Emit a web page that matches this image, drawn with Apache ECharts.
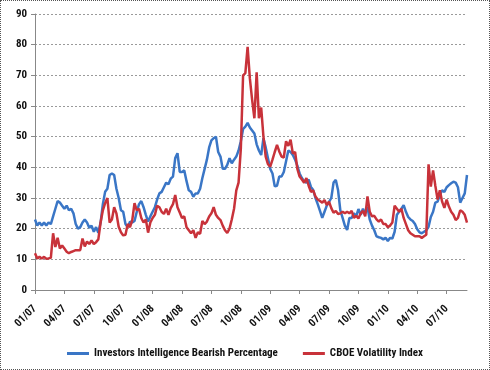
<!DOCTYPE html>
<html><head><meta charset="utf-8">
<script src="https://cdn.jsdelivr.net/npm/echarts@6/dist/echarts.min.js"></script>
<style>
html,body{margin:0;padding:0;background:#fff}
#c{position:absolute;left:0;top:0;width:490px;height:370px}
#frame{position:absolute;left:0;top:0;width:490px;height:370px;box-sizing:border-box;border:1px dotted #555;pointer-events:none}
</style>
</head><body>
<div id="c"></div><div id="frame"></div>
<script>
// Weekly observations, first week = Jan 2007
const seriesNames = ['Investors Intelligence Bearish Percentage', 'CBOE Volatility Index'];
const startYear = 2007;
const bearish = [
23,21,22,21,22,21,22,21.5,24,26.5,
29,28.5,27.5,26.5,27.5,26,26.5,25,21.5,20,
20.5,22,23,22,20.3,21,19,20.5,18.7,22,
28,32,33,37.5,38,37.5,33,30,26,25.5,
21.5,20.5,22.3,22,22.5,25.5,28,29,27,24.5,
22.3,24,25.5,27,29.5,31.5,32,33.5,35,34.5,
36.3,37,43,44.6,38.5,38.5,39,35.5,32.5,32,
30.4,31.5,31.5,33,36.5,39.5,42.5,46.5,48.8,49.5,
50,45,43.5,39.5,39.5,40.8,43,41.3,42.5,43.5,
45.5,48.5,52.5,53.3,54.5,53,52,51,47.5,45.5,
44,49.5,46.5,43,39.5,38,33.8,34,37,37,
38.5,42,45.5,45,44,42.5,40.5,38,36.5,35.5,
35,36,33.6,32.6,30,28,25.8,23.5,25.5,27.5,
28.7,30,35,35.9,32.5,26,23.5,21,19.6,23.5,
23.5,25,24,26.4,24.5,26.5,25,27,23,21,
19.5,17.5,17.2,17,16.5,17,16,17,16.8,19,
24.5,25.5,26.5,27.7,25.5,23.8,23,22.5,21.5,19.8,
18.8,18.5,19,19.5,20.6,23.8,25.5,28.5,28.8,31,
32.5,32,33.5,34.2,34.8,35.3,35,33.5,28.5,30,
31.5,37.5
];
const vix = [
12,10.3,10.8,10.3,10.8,10.2,10.3,10.5,18.5,14,
17,13.5,14.5,13.5,12.5,12,12.4,12.7,13,13,
13,16.8,14.2,15.8,15,16.2,15,15.6,16.5,22,
26,28.3,30,22,23,27,25,20.6,18.8,17.8,
18,21.5,20.5,22.8,28.3,26,26.5,23.5,22,23,
18.7,22,23.5,24.5,27.5,27,25.5,24.8,26.5,24.5,
26.7,28,31,27,25.3,23.5,24,20.5,19.5,18.5,
19.5,17,18.8,18.3,22.5,21.5,22.3,24,25,27,
24.5,23.5,22.8,21,19.5,18.6,20,23,26.5,32.5,
35,46,70,70.7,79.3,69,62,56,71,56,
59.5,50,43.5,41,40.2,42.5,45,47.3,45.2,43.5,
43.2,48.5,47,49,44.5,45,39.5,37,36,35,
36.5,34,32,32.5,30.5,29.5,29,28.5,29.3,27.7,
28.8,26.7,25.2,25.8,24.8,25,25.5,25,25.5,25,
25.8,23.5,24.2,23.3,25,25.8,24,30.5,25.5,24,
24.2,23,22.3,23,21.5,21.5,20.5,21,22,27.5,
26.5,25.5,26.5,23.5,21.5,19.5,18.5,18,17.5,17.5,
17.5,17,17.5,18,41,33.7,39,34,29.5,32.5,
28.8,26.8,29.5,27.2,25.5,24.5,22.8,23.5,26,25.5,
24.5,22
];
const yMin = 0, yMax = 90, yStep = 10;
const monthStep = 3; // quarterly tick labels MM/YY

const toMonths = i => i * 12 / 52;
const pts = arr => arr.map((v, i) => [toMonths(i), v]);
const xMax = toMonths(bearish.length - 1);

const FONT = '"Liberation Sans Narrow", "Roboto Condensed", Roboto, sans-serif';
const chart = echarts.init(document.getElementById('c'));
chart.setOption({
  animation: false,
  backgroundColor: '#fff',
  grid: {left: 35, right: 23, top: 14, bottom: 80, containLabel: false},
  xAxis: {
    type: 'value', min: 0, max: xMax, interval: monthStep,
    axisLine: {show: true, lineStyle: {color: '#888', width: 1}},
    axisTick: {show: true, length: 4, lineStyle: {color: '#888'}},
    splitLine: {show: false},
    axisLabel: {
      rotate: 45, margin: 17, color: '#111', fontWeight: 'bold', fontSize: 11, fontFamily: FONT,
      showMaxLabel: false,
      formatter: v => {
        const m = Math.round(v);
        if (Math.abs(v - m) > 1e-6 || m % monthStep !== 0) return '';
        const mm = String(m % 12 + 1).padStart(2, '0');
        const yy = String((startYear + Math.floor(m / 12)) % 100).padStart(2, '0');
        return mm + '/' + yy;
      }
    }
  },
  yAxis: {
    type: 'value', min: yMin, max: yMax, interval: yStep,
    axisLine: {show: true, lineStyle: {color: '#888', width: 1}},
    axisTick: {show: true, length: 4, lineStyle: {color: '#888'}},
    splitLine: {show: true, lineStyle: {color: '#9a9a9a', type: [2, 2], width: 1}},
    axisLabel: {margin: 8, color: '#111', fontWeight: 'bold', fontSize: 11, fontFamily: FONT}
  },
  legend: {
    bottom: 6, left: 'center', itemWidth: 22, itemHeight: 3, itemGap: 25, icon: 'rect',
    textStyle: {color: '#111', fontWeight: 'bold', fontSize: 11, fontFamily: FONT},
    data: seriesNames
  },
  series: [
    {name: seriesNames[0], type: 'line', data: pts(bearish), showSymbol: false, symbol: 'none',
     lineStyle: {width: 2.5, color: '#3A76C6'}, itemStyle: {color: '#3A76C6'}},
    {name: seriesNames[1], type: 'line', data: pts(vix), showSymbol: false, symbol: 'none',
     lineStyle: {width: 2.5, color: '#C8323A'}, itemStyle: {color: '#C8323A'}}
  ]
});
</script>
</body></html>
